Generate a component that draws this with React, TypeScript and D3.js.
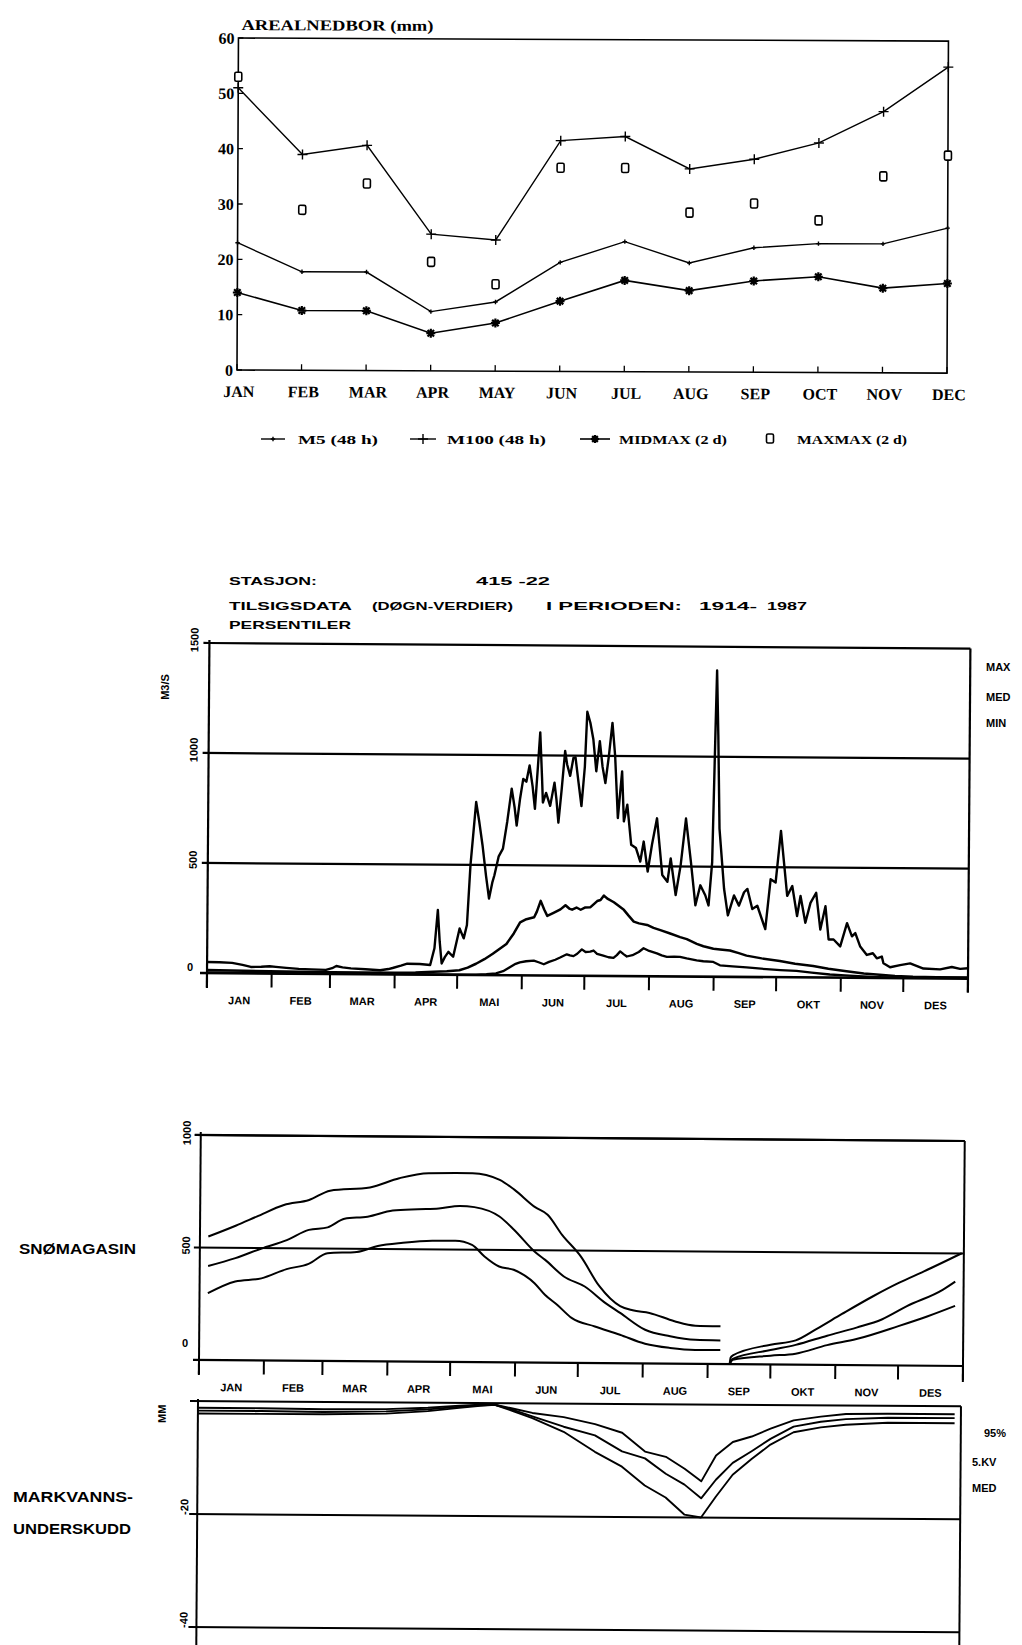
import React from "react";
import * as d3 from "d3";

// ---------- Areal precipitation (mm), one value per month ----------
const MONTHS_EN = ["JAN", "FEB", "MAR", "APR", "MAY", "JUN", "JUL", "AUG", "SEP", "OCT", "NOV", "DEC"];
const M5 = [23, 17.8, 17.8, 10.7, 12.5, 19.7, 23.5, 19.7, 22.5, 23.3, 23.3, 26.2];
const M100 = [51, 39, 40.7, 24.7, 23.7, 41.7, 42.5, 36.7, 38.5, 41.5, 47.2, 55.3];
const MIDMAX = [14, 10.8, 10.8, 6.8, 8.7, 12.7, 16.5, 14.7, 16.5, 17.3, 15.3, 16.2];
const MAXMAX = [53, 29, 33.8, 19.7, 15.7, 36.8, 36.8, 28.8, 30.5, 27.5, 35.5, 39.3];
const PRECIP_TICKS = [0, 10, 20, 30, 40, 50, 60];

// ---------- Shared calendar for the daily panels ----------
const MONTHS_NO = ["JAN", "FEB", "MAR", "APR", "MAI", "JUN", "JUL", "AUG", "SEP", "OKT", "NOV", "DES"];
const MONTH_START_DAYS = [0, 31, 59, 90, 120, 151, 181, 212, 243, 273, 304, 334, 365];

// ---------- Daily inflow percentiles (m3/s), [day of year, value] ----------
const FLOW_TICKS = [500, 1000, 1500];
const FLOW_MAX: [number, number][] = [
  [0, 50], [6, 49], [12, 47], [17, 38], [21, 29], [26, 30], [30, 33], [33, 30], [38, 26], [44, 22],
  [50, 20], [57, 18], [60, 26], [62, 36], [65, 30], [69, 26], [76, 22], [83, 18], [87, 24], [89, 29],
  [93, 40], [96, 49], [102, 48], [107, 44], [109, 120], [110.5, 294], [111.5, 150], [112.5, 51], [114, 80],
  [115.7, 104], [118, 82], [121, 211], [123, 166], [124.5, 227], [126, 500], [128.5, 786], [130, 700],
  [131.7, 590], [133.5, 450], [135, 348], [136.5, 420], [137.5, 454], [139.5, 540], [141.5, 575],
  [143.5, 700], [145.5, 848], [147, 760], [148, 680], [149.5, 800], [151, 893], [152.5, 880], [154, 954],
  [155.5, 860], [156.7, 757], [158, 950], [159, 1105], [160, 900], [160.5, 786], [162, 830], [164, 771],
  [166, 877], [167, 800], [168, 695], [169.5, 850], [171, 1021], [172, 960], [173.5, 908], [175, 990],
  [176, 992], [177.5, 880], [179, 771], [180.5, 950], [181.5, 1200], [183, 1150], [184.5, 1074], [186, 930],
  [187.6, 1067], [189, 950], [190.4, 877], [192, 1000], [193.6, 1150], [195, 1000], [196.5, 718],
  [198.4, 930], [199.4, 703], [201, 779], [203, 597], [205.3, 582], [207.4, 521], [209, 612], [211, 476],
  [213, 600], [215.3, 718], [218, 461], [220.5, 430], [222, 536], [224.5, 370], [226.8, 506], [229.2, 718],
  [231.7, 521], [234, 324], [236.3, 415], [238.7, 370], [240.3, 324], [241.9, 521], [243, 1100],
  [243.6, 1392], [244.4, 1100], [245.3, 673], [247.7, 400], [249.6, 279], [252.5, 370], [254.9, 324],
  [257.3, 385], [258.9, 400], [261.3, 309], [263.7, 324], [267.6, 218], [270, 445], [272.4, 430],
  [274.8, 665], [278, 370], [280.4, 415], [282.8, 279], [284.4, 370], [286.8, 248], [289.2, 339],
  [291.9, 385], [294, 218], [296.4, 324], [298, 173], [300.4, 173], [303.6, 142], [306.8, 248],
  [309.2, 188], [310.8, 203], [313.2, 142], [316.4, 104], [319.3, 112], [321.2, 89], [323.6, 97],
  [324.4, 67], [327.6, 49], [332.4, 59], [337.2, 67], [343.6, 44], [351.6, 41], [357.2, 52], [361.2, 44],
  [365, 47],
];
const FLOW_MED: [number, number][] = [
  [0, 14], [30, 10], [60, 8], [90, 7], [100, 9], [108.6, 13], [115, 16], [121, 21], [125, 33], [129, 51],
  [133, 72], [137, 97], [140, 118], [143.5, 142], [147, 190], [150, 241], [153, 255], [156.7, 264],
  [158, 290], [159.8, 339], [161.5, 300], [163, 271], [166, 285], [169.3, 301], [171.7, 320],
  [173.5, 305], [174.9, 300], [177, 310], [179, 300], [181, 310], [183.7, 312], [186.9, 340], [188.5, 345],
  [190.1, 365], [192, 350], [194.9, 335], [197, 320], [199.7, 301], [202, 275], [204.5, 248], [207, 240],
  [210.9, 233], [214, 220], [217.3, 210], [222, 195], [226.8, 179], [230, 170], [234.8, 149], [238, 138],
  [242.8, 127], [246, 124], [250.7, 120], [255, 108], [258.7, 97], [266, 85], [274.7, 74], [282, 62],
  [290.7, 52], [298, 40], [306.7, 29], [315, 20], [322.6, 14], [330, 9], [338.6, 6], [350, 5], [365, 5],
];
const FLOW_MIN: [number, number][] = [
  [0, 3], [60, 2], [110, 1], [125, 1], [129, 2], [134, 4], [138.6, 8], [142, 18], [145, 35], [148, 52],
  [150, 59], [153, 64], [156.7, 67], [159, 60], [161.5, 51], [164, 62], [167, 72], [169.3, 82],
  [172.5, 97], [174, 92], [175.7, 89], [177.5, 100], [179.7, 120], [181.5, 108], [183.7, 110],
  [185.3, 115], [187, 100], [190, 92], [192.5, 85], [194.9, 82], [196.5, 95], [198.1, 112], [199.7, 100],
  [201.3, 89], [204, 95], [207, 110], [209.3, 127], [212, 115], [215.7, 104], [218, 95], [220.5, 89],
  [224, 90], [226.8, 89], [230, 82], [234.8, 74], [238, 70], [242.8, 67], [246, 52], [252, 48],
  [258.7, 44], [263, 40], [268.3, 36], [275, 32], [282.7, 29], [290, 22], [298.7, 14], [306, 10],
  [314.7, 6], [322, 4], [330.6, 3], [365, 3],
];

// ---------- Snow storage percentiles, melt season and build-up season ----------
const SNOW_TICKS = [500, 1000];
const SNOW_HIGH_SPRING: [number, number][] = [
  [4, 549], [17, 598], [27, 639], [40, 692], [52, 715], [62, 757], [81, 773], [95, 815], [109, 838],
  [130, 840], [143, 811], [150, 768], [160, 691], [166, 658], [173, 569], [182, 474], [191, 342],
  [201, 254], [207, 236], [215, 225], [227, 189], [237, 170], [249, 168],
];
const SNOW_MID_SPRING: [number, number][] = [
  [4, 418], [17, 454], [29.5, 498], [41.5, 536], [52, 582], [61, 594], [69, 633], [80, 643], [92, 671],
  [104, 678], [114, 682], [124, 694], [131, 689], [143, 648], [150, 590], [160, 493], [165, 457],
  [174, 384], [184, 340], [194, 267], [201, 224], [213, 150], [225, 122], [237, 107], [249, 105],
];
const SNOW_LOW_SPRING: [number, number][] = [
  [4, 297], [17, 350], [29.5, 365], [41.5, 407], [52, 431], [61, 479], [75, 486], [85, 513], [97, 528],
  [111, 538], [122, 539], [130, 521], [136, 470], [143, 426], [150, 412], [160, 353], [165, 302],
  [171, 257], [178, 199], [189, 163], [201, 127], [213, 88], [225, 70], [237, 62], [249, 63],
];
const SNOW_HIGH_AUTUMN: [number, number][] = [
  [253.5, 0], [254, 30], [255, 39], [273, 88], [285, 108], [295, 160], [307, 227], [322, 308], [334, 367],
  [346, 419], [364, 501],
];
const SNOW_MID_AUTUMN: [number, number][] = [
  [253.5, 0], [255, 24], [273, 64], [285, 88], [300, 130], [314, 167], [326, 204], [338, 264], [355, 338],
  [361, 375],
];
const SNOW_LOW_AUTUMN: [number, number][] = [
  [253.5, 0], [255, 20], [273, 39], [285, 49], [300, 88], [314, 116], [334, 175], [348, 220], [361, 267],
];

// ---------- Soil water deficit (mm) ----------
const DEFICIT_TICKS = [0, -20, -40];
const DEFICIT_DAYS = [0, 30, 60, 90, 110, 125, 135, 142, 150, 160, 175, 190, 203, 214, 224, 233, 241, 248, 256, 265, 274, 285, 298, 310, 330, 362];
const DEFICIT_95 = [-1.2, -1.2, -1.3, -1.2, -0.9, -0.5, -0.3, -0.3, -0.9, -1.7, -2.4, -3.6, -5.1, -8.4, -9.3, -11.4, -13.6, -9.0, -6.6, -5.6, -4.2, -2.7, -2.0, -1.5, -1.4, -1.4];
const DEFICIT_KV = [-1.7, -1.7, -1.8, -1.6, -1.2, -0.7, -0.4, -0.3, -1.1, -2.3, -4.1, -5.6, -8.4, -9.6, -12.3, -14.2, -16.6, -13.3, -10.3, -8.2, -6.0, -3.8, -2.9, -2.4, -2.1, -2.1];
const DEFICIT_MED = [-2.2, -2.2, -2.2, -2.0, -1.5, -0.9, -0.5, -0.3, -1.3, -2.6, -5.0, -8.5, -11.1, -14.4, -16.5, -19.5, -20.0, -16.3, -12.4, -9.6, -7.0, -4.8, -3.9, -3.4, -3.0, -3.0];

const SERIF = "'Liberation Serif', 'DejaVu Serif', serif";
const SANS = "'Liberation Sans', Arial, sans-serif";

type Pt = [number, number];

function pathOf(pts: Pt[], x: (v: number) => number, y: (v: number) => number, curve: d3.CurveFactory = d3.curveLinear) {
  return d3.line<Pt>().x((d) => x(d[0])).y((d) => y(d[1])).curve(curve)(pts) ?? "";
}

const plusPath = (x: number, y: number, r: number) => `M${x - r},${y}H${x + r}M${x},${y - r}V${y + r}`;
const starPath = (x: number, y: number, r: number) => {
  const q = r * 0.72;
  return `M${x - r},${y}H${x + r}M${x},${y - r}V${y + r}M${x - q},${y - q}L${x + q},${y + q}M${x - q},${y + q}L${x + q},${y - q}`;
};

function PrecipPanel() {
  const x = d3.scaleLinear().domain([0, 11]).range([237, 947]);
  const y = d3.scaleLinear().domain([0, 60]).range([370, 38]);
  const idxLine = d3.line<number>().x((_, i) => x(i)).y((v) => y(v));
  const [x0, x1] = x.range();
  const [yb, yt] = y.range();
  return (
    <g transform={`rotate(0.25 ${x0} ${yb})`}>
      <text x={240} y={30} fontFamily={SERIF} fontWeight="bold" fontSize={15} textLength={192} lengthAdjust="spacingAndGlyphs">
        AREALNEDBOR (mm)
      </text>
      <rect x={x0} y={yt} width={x1 - x0} height={yb - yt} fill="none" stroke="#000" strokeWidth={1.6} />
      {PRECIP_TICKS.map((t) => (
        <g key={t}>
          <line x1={x0} x2={x0 + 5} y1={y(t)} y2={y(t)} stroke="#000" strokeWidth={1.3} />
          <text x={233} y={y(t)} dy="0.36em" textAnchor="end" fontFamily={SERIF} fontWeight="bold" fontSize={16}>
            {t}
          </text>
        </g>
      ))}
      {MONTHS_EN.map((m, i) => (
        <g key={m}>
          <line x1={x(i)} x2={x(i)} y1={yb} y2={yb - 6} stroke="#000" strokeWidth={1.3} />
          <text x={x(i) + 2} y={397} textAnchor="middle" fontFamily={SERIF} fontWeight="bold" fontSize={16}>
            {m}
          </text>
        </g>
      ))}
      <path d={idxLine(M100) ?? ""} fill="none" stroke="#000" strokeWidth={1.4} />
      <path d={idxLine(M5) ?? ""} fill="none" stroke="#000" strokeWidth={1.4} />
      <path d={idxLine(MIDMAX) ?? ""} fill="none" stroke="#000" strokeWidth={1.6} />
      {M100.map((v, i) => (
        <path key={`a${i}`} d={plusPath(x(i), y(v), 5)} stroke="#000" strokeWidth={1.4} />
      ))}
      {M5.map((v, i) => (
        <path key={`b${i}`} d={plusPath(x(i), y(v), 2.2)} stroke="#000" strokeWidth={1.4} />
      ))}
      {MIDMAX.map((v, i) => (
        <path key={`c${i}`} d={starPath(x(i), y(v), 4.5)} stroke="#000" strokeWidth={2.2} />
      ))}
      {MAXMAX.map((v, i) => (
        <rect key={`d${i}`} x={x(i) - 3.5} y={y(v) - 4.5} width={7} height={9} rx={1.5} fill="#fff" stroke="#000" strokeWidth={1.6} />
      ))}
    </g>
  );
}

function PrecipLegend() {
  const ly = 439;
  const txt = { fontFamily: SERIF, fontWeight: "bold" as const, fontSize: 13, lengthAdjust: "spacingAndGlyphs" as const };
  return (
    <g>
      <line x1={261} x2={285} y1={ly} y2={ly} stroke="#000" strokeWidth={1.4} />
      <path d={plusPath(273, ly, 2.2)} stroke="#000" strokeWidth={1.4} />
      <text x={298} y={ly + 5} textLength={80} {...txt}>M5 (48 h)</text>
      <line x1={410} x2={436} y1={ly} y2={ly} stroke="#000" strokeWidth={1.4} />
      <path d={plusPath(423, ly, 5)} stroke="#000" strokeWidth={1.4} />
      <text x={447} y={ly + 5} textLength={99} {...txt}>M100 (48 h)</text>
      <line x1={580} x2={610} y1={ly} y2={ly} stroke="#000" strokeWidth={1.6} />
      <path d={starPath(595, ly, 4)} stroke="#000" strokeWidth={2.2} />
      <text x={619} y={ly + 5} textLength={108} {...txt}>MIDMAX (2 d)</text>
      <rect x={766.5} y={ly - 5} width={7} height={9} rx={1.5} fill="#fff" stroke="#000" strokeWidth={1.6} />
      <text x={797} y={ly + 5} textLength={110} {...txt}>MAXMAX (2 d)</text>
    </g>
  );
}

function MonthAxis({ x, yAxis, labelY }: { x: d3.ScaleLinear<number, number>; yAxis: number; labelY: number }) {
  return (
    <g>
      {MONTH_START_DAYS.map((d) => (
        <line key={d} x1={x(d)} x2={x(d)} y1={yAxis} y2={yAxis + 14} stroke="#000" strokeWidth={2} />
      ))}
      {MONTHS_NO.map((m, i) => (
        <text
          key={m}
          x={x((MONTH_START_DAYS[i] + MONTH_START_DAYS[i + 1]) / 2)}
          y={labelY}
          textAnchor="middle"
          fontFamily={SANS}
          fontWeight="bold"
          fontSize={11}
        >
          {m}
        </text>
      ))}
    </g>
  );
}

function RotLabel({ x, y, text, size = 11 }: { x: number; y: number; text: string; size?: number }) {
  return (
    <text x={x} y={y} dy="0.36em" textAnchor="middle" transform={`rotate(-90 ${x} ${y})`} fontFamily={SANS} fontWeight="bold" fontSize={size}>
      {text}
    </text>
  );
}

function FlowPanel() {
  const x = d3.scaleLinear().domain([0, 365]).range([207, 968]);
  const y = d3.scaleLinear().domain([0, 1500]).range([973, 643]);
  const [x0, x1] = x.range();
  const yb = y(0);
  const yt = y(1500);
  const head = { fontFamily: SANS, fontWeight: "bold" as const, fontSize: 11.5, lengthAdjust: "spacingAndGlyphs" as const };
  return (
    <g>
      <text x={229} y={585} textLength={88} {...head}>STASJON:</text>
      <text x={476} y={585} textLength={74} {...head}>415 -22</text>
      <text x={229} y={610} textLength={123} {...head}>TILSIGSDATA</text>
      <text x={372} y={610} textLength={141} {...head}>(DØGN-VERDIER)</text>
      <text x={546} y={610} textLength={136} {...head}>I PERIODEN:</text>
      <text x={699} y={610} textLength={58} {...head}>1914-</text>
      <text x={767} y={610} textLength={40} {...head}>1987</text>
      <text x={229} y={629} textLength={122} {...head}>PERSENTILER</text>
      <RotLabel x={165} y={687} text="M3/S" />
      {["MAX", "MED", "MIN"].map((t, i) => (
        <text key={t} x={986} y={[671, 701, 727][i]} fontFamily={SANS} fontWeight="bold" fontSize={11}>
          {t}
        </text>
      ))}
      <g transform={`rotate(0.42 ${x0} ${yb})`}>
        <line x1={x0} x2={x0} y1={yt - 3} y2={yb + 15} stroke="#000" strokeWidth={2.2} />
        <line x1={x0 - 7} x2={x1} y1={yb} y2={yb} stroke="#000" strokeWidth={2.6} />
        <line x1={x0} x2={x1} y1={yt} y2={yt} stroke="#000" strokeWidth={2.2} />
        <line x1={x1} x2={x1} y1={yt} y2={yb + 14} stroke="#000" strokeWidth={2.2} />
        {FLOW_TICKS.map((t) => (
          <g key={t}>
            <line x1={x0 - 6} x2={t === 1500 ? x0 : x1} y1={y(t)} y2={y(t)} stroke="#000" strokeWidth={2.2} />
            <RotLabel x={192} y={y(t) - 3} text={String(t)} />
          </g>
        ))}
        <text x={190} y={971} textAnchor="middle" fontFamily={SANS} fontWeight="bold" fontSize={11}>0</text>
        <MonthAxis x={x} yAxis={yb} labelY={1004} />
        <path d={pathOf(FLOW_MIN, x, y)} fill="none" stroke="#000" strokeWidth={2.3} strokeLinejoin="round" />
        <path d={pathOf(FLOW_MED, x, y)} fill="none" stroke="#000" strokeWidth={2.5} strokeLinejoin="round" />
        <path d={pathOf(FLOW_MAX, x, y)} fill="none" stroke="#000" strokeWidth={2.4} strokeLinejoin="round" />
      </g>
    </g>
  );
}

function SnowPanel() {
  const x = d3.scaleLinear().domain([0, 365]).range([199, 963]);
  const y = d3.scaleLinear().domain([0, 1000]).range([1360, 1135]);
  const [x0, x1] = x.range();
  const yb = y(0);
  const yt = y(1000);
  const series = [SNOW_HIGH_SPRING, SNOW_MID_SPRING, SNOW_LOW_SPRING, SNOW_HIGH_AUTUMN, SNOW_MID_AUTUMN, SNOW_LOW_AUTUMN];
  return (
    <g>
      <text x={19} y={1254} fontFamily={SANS} fontWeight="bold" fontSize={14} textLength={117} lengthAdjust="spacingAndGlyphs">
        SNØMAGASIN
      </text>
      <g transform={`rotate(0.45 ${x0} ${yb})`}>
        <line x1={x0} x2={x0} y1={yt - 3} y2={yb + 15} stroke="#000" strokeWidth={2} />
        <line x1={x0 - 6} x2={x1} y1={yb} y2={yb} stroke="#000" strokeWidth={2.2} />
        <line x1={x0 - 6} x2={x1} y1={yt} y2={yt} stroke="#000" strokeWidth={2.2} />
        <line x1={x1} x2={x1} y1={yt} y2={yb + 16} stroke="#000" strokeWidth={2} />
        {SNOW_TICKS.map((t) => (
          <g key={t}>
            <line x1={x0 - 6} x2={x1} y1={y(t)} y2={y(t)} stroke="#000" strokeWidth={2} />
            <RotLabel x={185} y={y(t) - 2} text={String(t)} />
          </g>
        ))}
        <text x={185} y={1347} textAnchor="middle" fontFamily={SANS} fontWeight="bold" fontSize={11}>0</text>
        <MonthAxis x={x} yAxis={yb} labelY={1391} />
        {series.map((s, i) => (
          <path key={i} d={pathOf(s, x, y, d3.curveMonotoneX)} fill="none" stroke="#000" strokeWidth={2} strokeLinejoin="round" />
        ))}
      </g>
    </g>
  );
}

function DeficitPanel() {
  const x = d3.scaleLinear().domain([0, 365]).range([198, 961]);
  const y = d3.scaleLinear().domain([-40, 0]).range([1627, 1401]);
  const [x0, x1] = x.range();
  const yt = y(0);
  const toPts = (vals: number[]): Pt[] => vals.map((v, i) => [DEFICIT_DAYS[i], v]);
  return (
    <g>
      <text x={13} y={1502} fontFamily={SANS} fontWeight="bold" fontSize={14} textLength={120} lengthAdjust="spacingAndGlyphs">
        MARKVANNS-
      </text>
      <text x={13} y={1534} fontFamily={SANS} fontWeight="bold" fontSize={14} textLength={118} lengthAdjust="spacingAndGlyphs">
        UNDERSKUDD
      </text>
      <text x={984} y={1437} fontFamily={SANS} fontWeight="bold" fontSize={11}>95%</text>
      <text x={972} y={1466} fontFamily={SANS} fontWeight="bold" fontSize={11}>5.KV</text>
      <text x={972} y={1492} fontFamily={SANS} fontWeight="bold" fontSize={11}>MED</text>
      <g transform={`rotate(0.4 ${x0} ${yt})`}>
        <RotLabel x={162} y={1414} text="MM" />
        <line x1={x0} x2={x0} y1={yt - 2} y2={1660} stroke="#000" strokeWidth={2} />
        <line x1={x1} x2={x1} y1={yt} y2={1660} stroke="#000" strokeWidth={2} />
        {DEFICIT_TICKS.map((t) => (
          <g key={t}>
            <line x1={x0 - 8} x2={x1} y1={y(t)} y2={y(t)} stroke="#000" strokeWidth={2} />
            {t !== 0 && <RotLabel x={185} y={y(t) - 7} text={String(t)} />}
          </g>
        ))}
        {[DEFICIT_95, DEFICIT_KV, DEFICIT_MED].map((s, i) => (
          <path key={i} d={pathOf(toPts(s), x, y)} fill="none" stroke="#000" strokeWidth={1.9} strokeLinejoin="round" />
        ))}
      </g>
    </g>
  );
}

export default function App() {
  return (
    <div style={{ position: "absolute", left: 0, top: 0, width: 1022, height: 1645, background: "#fff" }}>
      <svg width={1022} height={1645} viewBox="0 0 1022 1645" style={{ display: "block" }}>
        <rect width={1022} height={1645} fill="#fff" />
        <PrecipPanel />
        <PrecipLegend />
        <FlowPanel />
        <SnowPanel />
        <DeficitPanel />
      </svg>
    </div>
  );
}
